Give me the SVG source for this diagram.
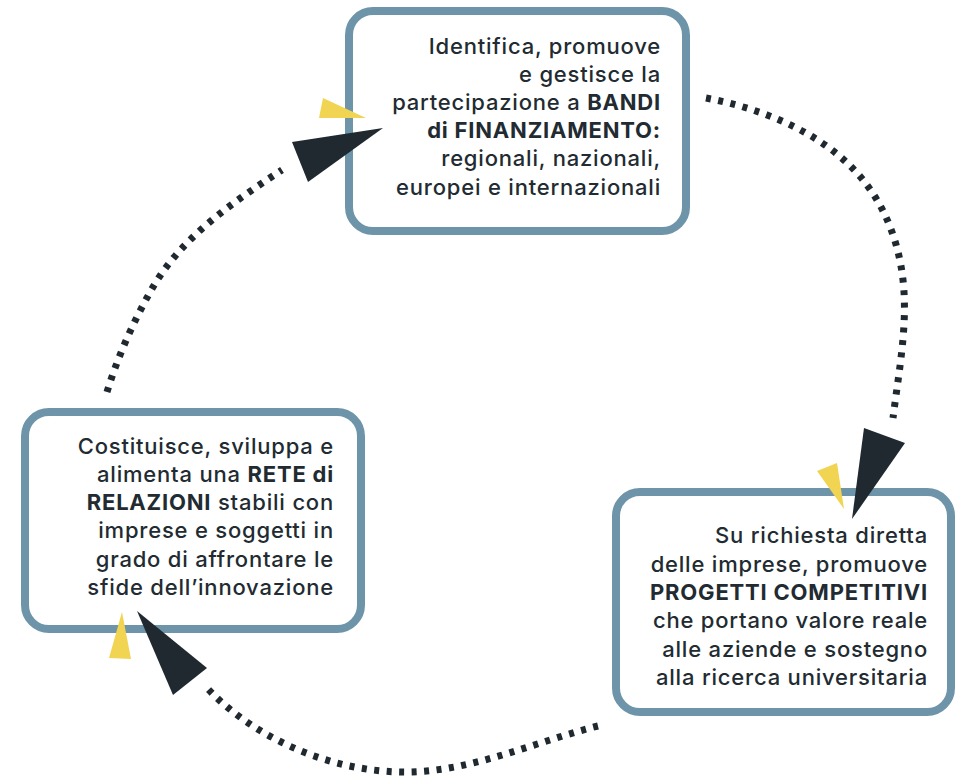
<svg xmlns="http://www.w3.org/2000/svg" width="960" height="776" viewBox="0 0 960 776">
<style>
.box{fill:#ffffff;stroke:#6e94aa;stroke-width:8}
.txt{font-family:Inter,"Noto Sans","DejaVu Sans",sans-serif;font-size:22px;font-weight:500;fill:#222b31;text-anchor:end;letter-spacing:0.8px}
.b{font-weight:700}
.arc{fill:none;stroke:#1f292f;stroke-width:7;stroke-dasharray:5 7.5}
.head{fill:#1f292f}
.acc{fill:#f1d452}
</style>
<rect width="960" height="776" fill="#ffffff"/>
<g id="node-bandi">
<rect class="box" x="349" y="11" width="337" height="220" rx="24"/>
<text class="txt" x="661" y="54">Identifica, promuove</text>
<text class="txt" x="661" y="82">e gestisce la</text>
<text class="txt" x="661" y="110">partecipazione a <tspan class="b">BANDI</tspan></text>
<text class="txt b" x="661" y="138">di FINANZIAMENTO:</text>
<text class="txt" x="661" y="166">regionali, nazionali,</text>
<text class="txt" x="661" y="195">europei e internazionali</text>
</g>
<g id="node-progetti">
<rect class="box" x="616" y="492" width="335" height="220" rx="24"/>
<text class="txt" x="928" y="543">Su richiesta diretta</text>
<text class="txt" x="928" y="572">delle imprese, promuove</text>
<text class="txt b" x="928" y="600">PROGETTI COMPETITIVI</text>
<text class="txt" x="928" y="628">che portano valore reale</text>
<text class="txt" x="928" y="657">alle aziende e sostegno</text>
<text class="txt" x="928" y="685">alla ricerca universitaria</text>
</g>
<g id="node-rete">
<rect class="box" x="25" y="412" width="336" height="217" rx="24"/>
<text class="txt" x="334" y="454">Costituisce, sviluppa e</text>
<text class="txt" x="334" y="482">alimenta una <tspan class="b">RETE di</tspan></text>
<text class="txt" x="334" y="510"><tspan class="b">RELAZIONI</tspan> stabili con</text>
<text class="txt" x="334" y="538">imprese e soggetti in</text>
<text class="txt" x="334" y="567">grado di affrontare le</text>
<text class="txt" x="334" y="595">sfide dell’innovazione</text>
</g>
<g id="connectors">
<path class="arc" d="M706,98 C764,109 826,134 863,180 C886,208 899,244 903,280 C908,325 899,370 893,418"/>
<polygon class="acc" points="817,471 837,463 844,509"/>
<polygon class="head" points="864,428 905,443 852,519"/>
<path class="arc" d="M598,726 C534,742 471,772 405,772 C333,772 256,740 207,688"/>
<polygon class="acc" points="122,612 109,658 131,659"/>
<polygon class="head" points="137,611 207,668 173,695"/>
<path class="arc" d="M107,392 C118,356 134,320 153,287 C182,237 233,202 282,170"/>
<polygon class="acc" points="323,98 319,118 366,118"/>
<polygon class="head" points="292,142 308,182 383,128"/>
</g>
</svg>
